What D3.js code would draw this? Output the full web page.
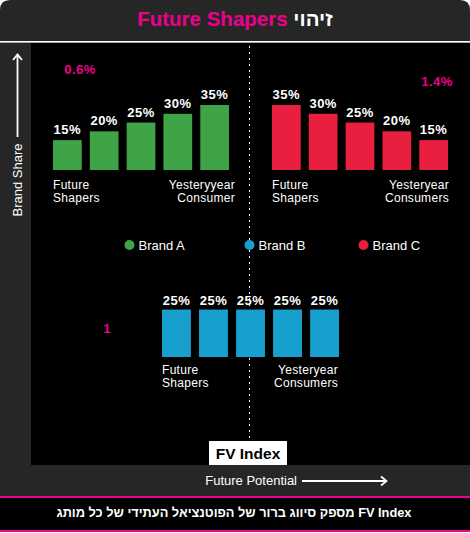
<!DOCTYPE html>
<html>
<head>
<meta charset="utf-8">
<script src="https://cdn.jsdelivr.net/npm/d3@7"></script>
<style>
  html, body { margin: 0; padding: 0; background: #fff; }
  svg { display: block; font-family: "Liberation Sans", Arial, sans-serif; }
</style>
</head>
<body>
<div id="chart"></div>
<script>
// data
const stages = ["s1", "s2", "s3", "s4", "s5"];
const brandA = [15, 20, 25, 30, 35];
const brandB = [25, 25, 25, 25, 25];
const brandC = [35, 30, 25, 20, 15];
const fvLabels = { A: "0.6%", B: "1", C: "1.4%" };
const brands = ["Brand A", "Brand B", "Brand C"];
const colors = { A: "#3ea447", B: "#179fce", C: "#e81f3e" };
const PINK = "#ec008c";

const W = 470, H = 533;
const svg = d3.select("#chart").append("svg").attr("width", W).attr("height", H);

// frame
svg.append("path")
  .attr("d", `M0,10 Q0,0 10,0 L${W-10},0 Q${W},0 ${W},10 L${W},498 L0,498 Z`)
  .attr("fill", "#262626");
svg.append("rect").attr("x", 0).attr("y", 41).attr("width", W).attr("height", 1.6).attr("fill", "#fff");
svg.append("rect").attr("x", 31).attr("y", 43).attr("width", W - 31).attr("height", 422).attr("fill", "#000");

// title
const title = svg.append("text").attr("x", 235).attr("y", 26).attr("text-anchor", "middle")
  .attr("font-size", "20.5px").attr("font-weight", "bold");
title.append("tspan").attr("fill", PINK).text("Future Shapers ");
title.append("tspan").attr("fill", "#fff").text("זיהוי");

// dashed divider
const midX = 249.5;
svg.append("line").attr("x1", midX).attr("x2", midX).attr("y1", 46).attr("y2", 441)
  .attr("stroke", "#fff").attr("stroke-width", 1).attr("stroke-dasharray", "2,4");

// shared value scale (not zero based in the original)
const hScale = d3.scaleLinear().domain([-2, 35]).range([0, 65]);

function panel(values, key, x0, x1, base, opts) {
  const x = d3.scaleBand().domain(stages).range([x0, x1]).paddingInner(0.22).paddingOuter(0);
  const g = svg.append("g");
  g.selectAll("rect").data(values).enter().append("rect")
    .attr("x", (d, i) => x(stages[i]))
    .attr("y", d => base - hScale(d))
    .attr("width", x.bandwidth())
    .attr("height", d => hScale(d))
    .attr("fill", colors[key]);
  g.selectAll("text.val").data(values).enter().append("text").attr("class", "val")
    .attr("x", (d, i) => x(stages[i]) + x.bandwidth() / 2)
    .attr("y", d => base - hScale(d) - opts.valGap)
    .attr("text-anchor", "middle").attr("fill", "#fff")
    .attr("font-size", "13px").attr("font-weight", "bold").attr("letter-spacing", "0.5px")
    .text(d => d + "%");
  // category labels
  const ly = base + opts.labGap;
  const left = g.append("text").attr("x", x0).attr("y", ly).attr("fill", "#fff")
    .attr("font-size", "12px").attr("letter-spacing", "0.3px");
  left.append("tspan").attr("x", x0).text("Future");
  left.append("tspan").attr("x", x0).attr("dy", 13).text("Shapers");
  const rx = opts.lastX || x1;
  const right = g.append("text").attr("x", rx).attr("y", ly).attr("fill", "#fff")
    .attr("text-anchor", "end").attr("font-size", "12px").attr("letter-spacing", "0.3px");
  right.append("tspan").attr("x", rx).text(opts.last[0]);
  right.append("tspan").attr("x", rx).attr("dy", 13).text(opts.last[1]);
  // FV index value
  g.append("text").attr("x", opts.fvX).attr("y", opts.fvY).attr("text-anchor", "middle")
    .attr("fill", PINK).attr("font-size", "13px").attr("font-weight", "bold").attr("letter-spacing", "0.5px")
    .text(fvLabels[key]);
}

panel(brandA, "A", 53, 229, 170, { valGap: 6, labGap: 19, last: ["Yesteryyear", "Consumer"], lastX: 235, fvX: 80, fvY: 74 });
panel(brandC, "C", 272, 448, 170, { valGap: 6, labGap: 19, last: ["Yesteryear", "Consumers"], lastX: 449, fvX: 437, fvY: 86 });
panel(brandB, "B", 162, 339, 357, { valGap: 5, labGap: 17, last: ["Yesteryear", "Consumers"], lastX: 338, fvX: 107, fvY: 333 });

// legend
const legendX = d3.scaleOrdinal().domain(brands).range([129.5, midX, 363.5]);
const lg = svg.append("g").selectAll("g").data(brands).enter().append("g")
  .attr("transform", d => `translate(${legendX(d)},245)`);
lg.append("circle").attr("r", 5).attr("fill", (d, i) => colors["ABC"[i]]);
lg.append("text").attr("x", 9).attr("y", 5).attr("fill", "#fff")
  .attr("font-size", "13px").text(d => d);

// FV Index tag
svg.append("rect").attr("x", 209).attr("y", 441).attr("width", 78).attr("height", 24).attr("fill", "#fff");
svg.append("text").attr("x", 248).attr("y", 458.5).attr("text-anchor", "middle")
  .attr("font-size", "15.5px").attr("font-weight", "bold").attr("fill", "#000").text("FV Index");

// axis titles with arrows
svg.append("text").attr("x", 297).attr("y", 485).attr("text-anchor", "end")
  .attr("fill", "#fff").attr("font-size", "13px").text("Future Potential");
svg.append("line").attr("x1", 302).attr("x2", 386).attr("y1", 481).attr("y2", 481)
  .attr("stroke", "#fff").attr("stroke-width", 1.8);
svg.append("path").attr("d", "M381,476.5 L386.5,481 L381,485.5").attr("fill", "none")
  .attr("stroke", "#fff").attr("stroke-width", 1.8);

svg.append("text").attr("transform", "translate(21.5,180) rotate(-90)").attr("text-anchor", "middle")
  .attr("fill", "#fff").attr("font-size", "13px").text("Brand Share");
svg.append("line").attr("x1", 17.5).attr("x2", 17.5).attr("y1", 55).attr("y2", 137)
  .attr("stroke", "#fff").attr("stroke-width", 1.8);
svg.append("path").attr("d", "M13,60 L17.5,54.5 L22,60").attr("fill", "none")
  .attr("stroke", "#fff").attr("stroke-width", 1.8);

// footer
svg.append("rect").attr("x", 0).attr("y", 496).attr("width", W).attr("height", 2).attr("fill", PINK);
svg.append("rect").attr("x", 0).attr("y", 498).attr("width", W).attr("height", 32).attr("fill", "#000");
svg.append("rect").attr("x", 0).attr("y", 530).attr("width", W).attr("height", 2).attr("fill", PINK);
svg.append("text").attr("x", 234).attr("y", 517).attr("text-anchor", "middle").attr("direction", "rtl")
  .attr("fill", "#fff").attr("font-size", "12.8px").attr("font-weight", "bold")
  .text("FV Index מספק סיווג ברור של הפוטנציאל העתידי של כל מותג");
</script>
</body>
</html>
